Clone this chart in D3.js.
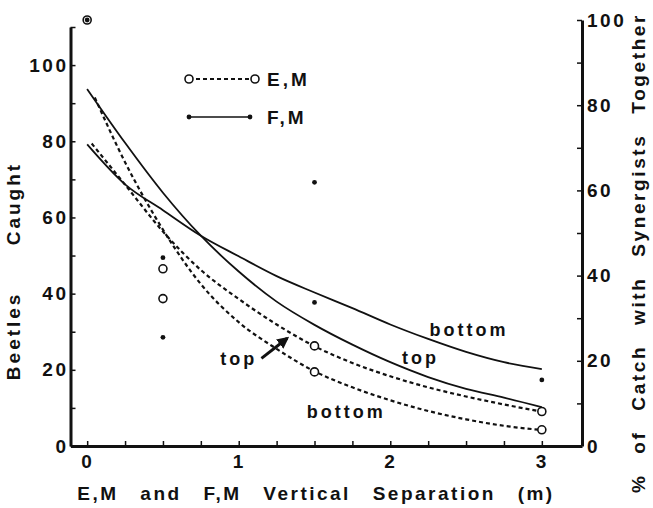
<!DOCTYPE html>
<html>
<head>
<meta charset="utf-8">
<script src="https://cdn.jsdelivr.net/npm/d3@7"></script>
<style>
  body { margin: 0; background: #fff; }
  svg text { font-family: "Liberation Sans", Arial, sans-serif; font-weight: bold; fill: #111; }
  .axis path, .axis line { stroke: #111; }
</style>
</head>
<body>
<div id="chart"></div>
<script>

// Curves, beetles caught (left axis). Pairs of [separation (m), beetles].
const fm_top = [ [0,93.7], [0.25,79.6], [0.5,66.5], [0.75,55.2], [1,45.8], [1.25,37.9], [1.5,31.8], [1.75,26.6], [2,22.0], [2.25,18.1], [2.5,15.0], [2.75,12.7], [3,10.2] ];
const fm_bottom = [ [0,79.2], [0.25,68.7], [0.5,61.9], [0.75,55.2], [1,49.8], [1.25,44.6], [1.5,40.3], [1.75,36.2], [2,31.9], [2.25,28.1], [2.5,24.7], [2.75,22.0], [3,20.2] ];
const em_top = [ [0.03,79.4], [0.25,68.6], [0.5,56.3], [0.75,46.2], [1,38.6], [1.25,31.9], [1.5,26.2], [1.75,21.8], [2,18.3], [2.25,15.4], [2.5,13.0], [2.75,10.9], [3,9.0] ];
const em_bottom = [ [0.05,91.5], [0.25,74.5], [0.5,56.8], [0.75,42.5], [1,32.5], [1.25,25.5], [1.5,19.6], [1.75,15.4], [2,12.0], [2.25,9.2], [2.5,7.0], [2.75,5.3], [3,4.2] ];

// Observed points, % of catch with synergists together (right axis).
const em_points = [ [0.5,41.6], [0.5,34.6], [1.5,23.5], [1.5,17.4], [3,8.1], [3,3.8] ];
const fm_points = [ [0.5,44.2], [0.5,25.5], [1.5,61.9], [1.5,33.7], [3,15.5] ];
const both_points = [ [0,100] ];

// Ticks
const x_ticks = d3.range( 0, 3.01, 0.25 );
const x_labels = [ 0, 1, 2, 3 ];
const left_ticks = d3.range( 0, 111, 10 );
const right_ticks = d3.range( 0, 101, 10 );

// Curve labels: [text, separation, beetles]
const curve_labels = [ ['bottom', 2.52, 28.9], ['top', 2.2, 21.5], ['top', 1.0, 21.3], ['bottom', 1.71, 7.35] ];

const width = 653, height = 508;
const plot = { left: 70.5, right: 582, bottom: 446 };

const svg = d3.select( '#chart' ).append( 'svg' )
  .attr( 'width', width )
  .attr( 'height', height );

const x = d3.scaleLinear().domain( [-0.11, 3.265] ).range( [plot.left, plot.right] );
const y_left = d3.scaleLinear().domain( [0, 110] ).range( [plot.bottom, 27] );
const y_right = d3.scaleLinear().domain( [0, 100] ).range( [plot.bottom, 20] );

const tick_style = 'font-size: 19px; letter-spacing: 2.5px;';
const label_style = 'font-size: 18px; letter-spacing: 3px;';

// Left axis, ticks point inward.
svg.append( 'g' )
  .attr( 'class', 'axis' )
  .attr( 'transform', 'translate(' + plot.left + ',0)' )
  .call( d3.axisLeft( y_left )
    .tickValues( left_ticks )
    .tickSizeInner( -5 ).tickSizeOuter( 0 ).tickPadding( 2 )
    .tickFormat( function(d){ return d % 20 == 0 && d <= 100 ? d : ''; } ) );

// Right axis.
svg.append( 'g' )
  .attr( 'class', 'axis' )
  .attr( 'transform', 'translate(' + plot.right + ',0)' )
  .call( d3.axisRight( y_right )
    .tickValues( right_ticks )
    .tickSizeInner( -5 ).tickSizeOuter( 0 ).tickPadding( 5 )
    .tickFormat( function(d){ return d % 20 == 0 ? d : ''; } ) );

// Bottom axis.
svg.append( 'g' )
  .attr( 'class', 'axis' )
  .attr( 'transform', 'translate(0,' + plot.bottom + ')' )
  .call( d3.axisBottom( x )
    .tickValues( x_ticks )
    .tickSizeInner( -5 ).tickSizeOuter( 0 ).tickPadding( 9 )
    .tickFormat( function(d){ return x_labels.indexOf( d ) >= 0 ? d : ''; } ) );

svg.selectAll( '.axis' ).attr( 'font-family', null ).attr( 'font-size', null );
svg.selectAll( '.axis path' ).attr( 'stroke-width', 3 );
svg.selectAll( '.axis line' ).attr( 'stroke-width', 1.5 );
svg.selectAll( '.axis text' ).attr( 'style', tick_style );

// Curves.
const line = d3.line()
  .x( function(d){ return x( d[0] ); } )
  .y( function(d){ return y_left( d[1] ); } )
  .curve( d3.curveMonotoneX );

[ fm_top, fm_bottom ].forEach( function( c ){
  svg.append( 'path' ).datum( c )
    .attr( 'd', line )
    .attr( 'fill', 'none' )
    .attr( 'stroke', '#111' )
    .attr( 'stroke-width', 1.8 );
} );
[ em_top, em_bottom ].forEach( function( c ){
  svg.append( 'path' ).datum( c )
    .attr( 'd', line )
    .attr( 'fill', 'none' )
    .attr( 'stroke', '#111' )
    .attr( 'stroke-width', 2.2 )
    .attr( 'stroke-dasharray', '4,3' );
} );

// Points.
svg.selectAll( 'circle.em' )
  .data( em_points.concat( both_points ) )
  .enter().append( 'circle' )
    .attr( 'class', 'em' )
    .attr( 'cx', function(d){ return x( d[0] ); } )
    .attr( 'cy', function(d){ return y_right( d[1] ); } )
    .attr( 'r', 4 )
    .attr( 'fill', '#fff' )
    .attr( 'stroke', '#111' )
    .attr( 'stroke-width', 1.6 );
svg.selectAll( 'circle.fm' )
  .data( fm_points.concat( both_points ) )
  .enter().append( 'circle' )
    .attr( 'class', 'fm' )
    .attr( 'cx', function(d){ return x( d[0] ); } )
    .attr( 'cy', function(d){ return y_right( d[1] ); } )
    .attr( 'r', 2.4 )
    .attr( 'fill', '#111' );

// Curve labels.
svg.selectAll( 'text.curve_label' )
  .data( curve_labels )
  .enter().append( 'text' )
    .attr( 'class', 'curve_label' )
    .attr( 'x', function(d){ return x( d[1] ); } )
    .attr( 'y', function(d){ return y_left( d[2] ); } )
    .attr( 'text-anchor', 'middle' )
    .attr( 'style', label_style )
    .text( function(d){ return d[0]; } );

// Arrow from the dashed "top" label to its curve.
svg.append( 'defs' ).append( 'marker' )
  .attr( 'id', 'head' )
  .attr( 'viewBox', '0 0 10 10' )
  .attr( 'refX', 8 ).attr( 'refY', 5 )
  .attr( 'markerWidth', 4 ).attr( 'markerHeight', 4 )
  .attr( 'orient', 'auto' )
  .append( 'path' ).attr( 'd', 'M0,0 L10,5 L0,10 Z' ).attr( 'fill', '#111' );
svg.append( 'line' )
  .attr( 'x1', x( 1.15 ) ).attr( 'y1', y_left( 23 ) )
  .attr( 'x2', x( 1.32 ) ).attr( 'y2', y_left( 28.3 ) )
  .attr( 'stroke', '#111' )
  .attr( 'stroke-width', 3 )
  .attr( 'marker-end', 'url(#head)' );

// Legend.
const legend = [ { label: 'E,M', y: 79, dash: '4,3', open: true }, { label: 'F,M', y: 117, dash: null, open: false } ];
legend.forEach( function( l ){
  svg.append( 'line' )
    .attr( 'x1', 189 ).attr( 'x2', l.open ? 255 : 250 )
    .attr( 'y1', l.y ).attr( 'y2', l.y )
    .attr( 'stroke', '#111' )
    .attr( 'stroke-width', l.open ? 1.8 : 1.6 )
    .attr( 'stroke-dasharray', l.dash );
  [ 189, l.open ? 255 : 250 ].forEach( function( cx ){
    svg.append( 'circle' )
      .attr( 'cx', cx ).attr( 'cy', l.y )
      .attr( 'r', l.open ? 4 : 2.4 )
      .attr( 'fill', l.open ? '#fff' : '#111' )
      .attr( 'stroke', '#111' )
      .attr( 'stroke-width', l.open ? 1.6 : 0 );
  } );
  svg.append( 'text' )
    .attr( 'x', 267 ).attr( 'y', l.y + 7 )
    .attr( 'style', 'font-size: 19px; letter-spacing: 3px;' )
    .text( l.label );
} );

// Axis titles.
svg.append( 'text' )
  .attr( 'x', 316 ).attr( 'y', 500 )
  .attr( 'text-anchor', 'middle' )
  .attr( 'style', 'font-size: 19px; letter-spacing: 2.5px; word-spacing: 14px;' )
  .text( 'E,M and F,M Vertical Separation (m)' );

svg.append( 'text' )
  .attr( 'transform', 'translate(20,271) rotate(-90)' )
  .attr( 'text-anchor', 'middle' )
  .attr( 'style', 'font-size: 19px; letter-spacing: 3px; word-spacing: 38px;' )
  .text( 'Beetles Caught' );

svg.append( 'text' )
  .attr( 'transform', 'translate(645,253) rotate(-90)' )
  .attr( 'text-anchor', 'middle' )
  .attr( 'style', 'font-size: 19px; letter-spacing: 2.6px; word-spacing: 12px;' )
  .text( '% of Catch with Synergists Together' );

</script>
</body>
</html>
